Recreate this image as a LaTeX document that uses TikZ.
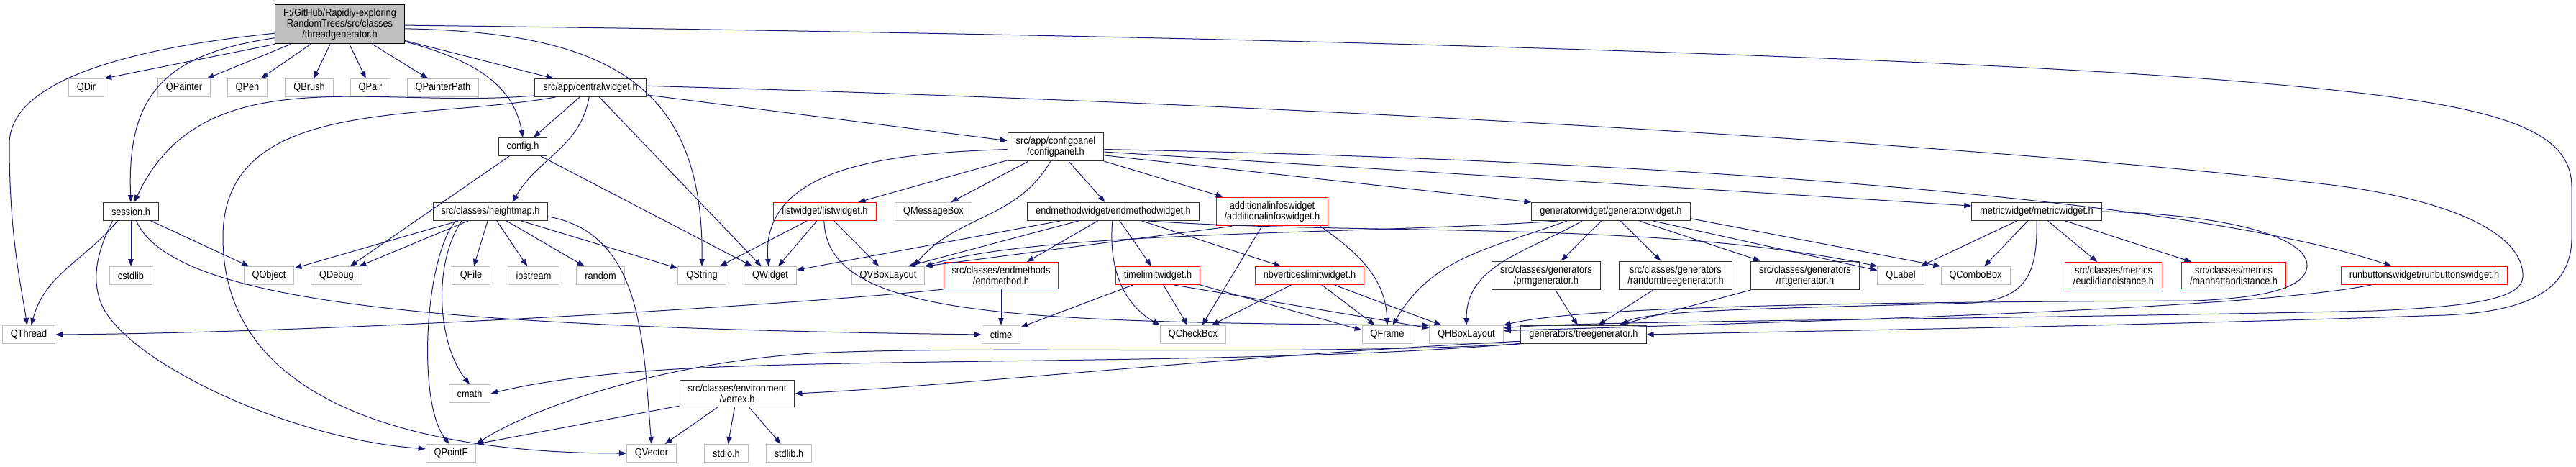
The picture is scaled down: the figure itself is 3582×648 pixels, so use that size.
\documentclass[tikz,border=0pt]{standalone}
\usepackage{fontspec}
\setmainfont{Liberation Sans}[FakeStretch=0.88]
\usepackage{tikz}
\usetikzlibrary{arrows.meta}
\definecolor{edgeblue}{HTML}{191970}
\definecolor{sysgray}{HTML}{BFBFBF}
\tikzset{
hfile/.style={
draw,
line width=1pt,
fill=white,
align=center,
inner xsep=11.5pt,
inner ysep=5.7pt,
minimum height=25pt,
font=\fontsize{14.5}{15}\selectfont
},
rootfile/.style={hfile,draw=black,fill=sysgray},
projfile/.style={hfile,draw=black!80},
sysfile/.style={hfile,draw=sysgray},
truncfile/.style={hfile,draw=red},
incl/.style={
draw=edgeblue,
line width=1pt,
-{Triangle[length=10pt,width=7.5pt]}
}
}

\begin{document}
\begin{tikzpicture}[x=1pt,y=1pt]
\useasboundingbox (0,0) rectangle (3582,-648);

% rank 0
\node[rootfile](tgen) at (472.5,-33.5){F:/GitHub/Rapidly-exploring\\RandomTrees/src/classes\\/threadgenerator.h};

% rank 1
\node[sysfile](qdir) at (120,-122){QDir};
\node[sysfile](qpainter) at (256,-122){QPainter};
\node[sysfile](qpen) at (344,-122){QPen};
\node[sysfile](qbrush) at (430,-122){QBrush};
\node[sysfile](qpair) at (515,-122){QPair};
\node[sysfile](qpainterpath) at (616,-122){QPainterPath};
\node[projfile](central) at (821,-122){src/app/centralwidget.h};

% rank 2
\node[projfile](config) at (727,-204){config.h};
\node[projfile](cpanel) at (1468,-204){src/app/configpanel\\/configpanel.h};

% rank 3
\node[projfile](session) at (182,-294){session.h};
\node[projfile](heightmap) at (682,-294){src/classes/heightmap.h};
\node[truncfile](listw) at (1147,-294){listwidget/listwidget.h};
\node[sysfile](qmsgbox) at (1298,-294){QMessageBox};
\node[projfile](endmw) at (1548,-294){endmethodwidget/endmethodwidget.h};
\node[truncfile](addinfo) at (1769,-294){additionalinfoswidget\\/additionalinfoswidget.h};
\node[projfile](genw) at (2240,-294){generatorwidget/generatorwidget.h};
\node[projfile](metricw) at (2832,-294){metricwidget/metricwidget.h};

% rank 4
\node[sysfile](cstdlib) at (182,-383){cstdlib};
\node[sysfile](qobject) at (374,-383){QObject};
\node[sysfile](qdebug) at (468,-383){QDebug};
\node[sysfile](qfile) at (655,-383){QFile};
\node[sysfile](iostream) at (742,-383){iostream};
\node[sysfile](random) at (835,-383){random};
\node[sysfile](qstring) at (976,-383){QString};
\node[sysfile](qwidget) at (1071,-383){QWidget};
\node[sysfile](qvbox) at (1235,-383){QVBoxLayout};
\node[truncfile](endm) at (1392,-383){src/classes/endmethods\\/endmethod.h};
\node[truncfile](timelim) at (1610,-383){timelimitwidget.h};
\node[truncfile](nbvert) at (1821,-383){nbverticeslimitwidget.h};
\node[projfile](prmgen) at (2150,-383){src/classes/generators\\/prmgenerator.h};
\node[projfile](rtgen) at (2330,-383){src/classes/generators\\/randomtreegenerator.h};
\node[projfile](rrtgen) at (2510,-383){src/classes/generators\\/rrtgenerator.h};
\node[sysfile](qlabel) at (2643,-383){QLabel};
\node[sysfile](qcombo) at (2747,-383){QComboBox};
\node[truncfile](euclid) at (2939,-383){src/classes/metrics\\/euclidiandistance.h};
\node[truncfile](manhattan) at (3106,-383){src/classes/metrics\\/manhattandistance.h};
\node[truncfile](runbtn) at (3371,-383){runbuttonswidget/runbuttonswidget.h};

% rank 5
\node[sysfile](qthread) at (40,-465){QThread};
\node[sysfile](ctime) at (1392,-465){ctime};
\node[sysfile](qcheck) at (1659,-465){QCheckBox};
\node[sysfile](qframe) at (1929,-465){QFrame};
\node[sysfile](qhbox) at (2039,-465){QHBoxLayout};
\node[projfile](treegen) at (2202,-465){generators/treegenerator.h};

% rank 6 and 7
\node[sysfile](cmath) at (653,-547){cmath};
\node[projfile](vertex) at (1025,-547){src/classes/environment\\/vertex.h};
\node[sysfile](qpointf) at (627,-630){QPointF};
\node[sysfile](qvector) at (906,-630){QVector};
\node[sysfile](stdio) at (1010,-630){stdio.h};
\node[sysfile](stdlib) at (1097,-630){stdlib.h};

% threadgenerator.h
\draw[incl](tgen.188) .. controls (150,-70) and (13,-120) .. (13,-200) .. controls (13,-330) and (30,-400) .. (qthread.100);
\draw[incl](tgen.192) .. controls (230,-75) and (176,-130) .. (session.north);
\draw[incl](tgen.south west)--(qdir.north east);
\draw[incl](tgen)--(qpainter);
\draw[incl](tgen)--(qpen);
\draw[incl](tgen)--(qbrush);
\draw[incl](tgen)--(qpair);
\draw[incl](tgen)--(qpainterpath);
\draw[incl](tgen)--(central);
\draw[incl](tgen.345) to[out=-15,in=100] (config.north);
\draw[incl](tgen.-4) .. controls (850,-45) and (979,-120) .. (qstring.north);
\draw[incl](tgen.-1) .. controls (1800,-50) and (2700,-80) .. (3100,-112) .. controls (3450,-140) and (3576,-170) .. (3576,-260) -- (3576,-330) .. controls (3576,-400) and (3520,-433) .. (3400,-438) .. controls (2900,-455) and (2500,-460) .. (treegen.east);

% session.h
\draw[incl](session.215) to[out=-130,in=75] (qthread.75);
\draw[incl](session)--(cstdlib);
\draw[incl](session)--(qobject);
\draw[incl](session.207) .. controls (140,-340) and (125,-380) .. (140,-420) .. controls (170,-500) and (400,-610) .. (qpointf.170);
\draw[incl](session.-60) .. controls (240,-420) and (600,-455) .. (ctime.west);

% centralwidget.h
\draw[incl](central)--(config);
\draw[incl](central.262) to[out=-100,in=60] (heightmap.23);
\draw[incl](central.188) to[out=185,in=65] (session.70);
\draw[incl](central.195) to[out=190,in=90] (310,-330) to[out=-90,in=180] (qvector.west);
\draw[incl](central)--(qwidget);
\draw[incl](central)--(cpanel);
\draw[incl](central.2) .. controls (2000,-150) and (2900,-215) .. (3250,-258) .. controls (3450,-285) and (3510,-340) .. (3508,-385) .. controls (3506,-415) and (3440,-426) .. (3300,-432) .. controls (2700,-445) and (2200,-446) .. (qhbox.10);

% config.h
\draw[incl](config)--(qdebug);
\draw[incl](config)--(qwidget);

% heightmap.h
\draw[incl](heightmap)--(qobject);
\draw[incl](heightmap)--(qdebug);
\draw[incl](heightmap)--(qfile);
\draw[incl](heightmap)--(iostream);
\draw[incl](heightmap)--(random);
\draw[incl](heightmap)--(qstring);
\draw[incl](heightmap.-5) to[out=-10,in=95] (qvector.north);
\draw[incl](heightmap.-165) .. controls (590,-360) and (580,-560) .. (qpointf.100);
\draw[incl](heightmap.-162) .. controls (600,-370) and (610,-480) .. (cmath.north);

% configpanel.h
\draw[incl](cpanel.183) to[out=182,in=95] (qwidget.100);
\draw[incl](cpanel)--(listw);
\draw[incl](cpanel)--(qmsgbox);
\draw[incl](cpanel.250) to[out=-120,in=50] (qvbox.20);
\draw[incl](cpanel)--(endmw);
\draw[incl](cpanel)--(addinfo);
\draw[incl](cpanel.-10)--(genw.north west);
\draw[incl](cpanel.-6)--(metricw.175);
\draw[incl](cpanel.-3) .. controls (2300,-222) and (3050,-275) .. (runbtn.164);

% listwidget.h
\draw[incl](listw)--(qstring);
\draw[incl](listw)--(qwidget);
\draw[incl](listw)--(qvbox);
\draw[incl](listw.265) .. controls (1150,-440) and (1400,-448) .. (qhbox.north west);

% endmethodwidget.h
\draw[incl](endmw.190)--(qwidget.12);
\draw[incl](endmw.195)--(qvbox.25);
\draw[incl](endmw.211)--(endm.28);
\draw[incl](endmw.265) to[out=-95,in=150] (qcheck.north west);
\draw[incl](endmw)--(timelim);
\draw[incl](endmw)--(nbvert);
\draw[incl](endmw.-15) .. controls (1900,-328) and (2300,-305) .. (qlabel.north west);

% endmethod.h
\draw[incl](endm)--(ctime);
\draw[incl](endm.south west) .. controls (1150,-420) and (500,-462) .. (qthread.east);

% timelimitwidget.h, nbverticeslimitwidget.h
\draw[incl](timelim)--(ctime);
\draw[incl](timelim)--(qcheck);
\draw[incl](timelim.south east)--(qframe.170);
\draw[incl](timelim.-30)--(qhbox.170);
\draw[incl](nbvert)--(qcheck);
\draw[incl](nbvert)--(qframe);
\draw[incl](nbvert)--(qhbox);

% additionalinfoswidget.h
\draw[incl](addinfo.200)--(qvbox.north east);
\draw[incl](addinfo.235)--(qcheck.46);
\draw[incl](addinfo.-17) to[out=-35,in=92] (qframe.north);

% generatorwidget.h
\draw[incl](genw.190) .. controls (1900,-326) and (1450,-320) .. (qvbox.north east);
\draw[incl](genw.192) to[out=200,in=60] (qframe.60);
\draw[incl](genw.198) to[out=210,in=90] (qhbox.north);
\draw[incl](genw)--(prmgen);
\draw[incl](genw)--(rtgen);
\draw[incl](genw)--(rrtgen);
\draw[incl](genw)--(qlabel);
\draw[incl](genw.-5)--(qcombo.north west);

% metricwidget.h
\draw[incl](metricw)--(qlabel);
\draw[incl](metricw)--(qcombo);
\draw[incl](metricw)--(euclid);
\draw[incl](metricw)--(manhattan);
\draw[incl](metricw.south) .. controls (2834,-390) and (2810,-415) .. (2744,-421) .. controls (2500,-428) and (2290,-430) .. (treegen.14);
\draw[incl](metricw.east) .. controls (3100,-298) and (3210,-330) .. (3208,-370) .. controls (3206,-400) and (3150,-414) .. (3050,-418) .. controls (2600,-420) and (2200,-425) .. (qhbox.north east);

% runbuttonswidget.h
\draw[incl](runbtn.190) .. controls (3150,-425) and (2700,-442) .. (qhbox.6);

% generators
\draw[incl](prmgen)--(treegen);
\draw[incl](rtgen)--(treegen);
\draw[incl](rrtgen)--(treegen);

% treegenerator.h
\draw[incl](treegen.south west) .. controls (1800,-495) and (1400,-480) .. (1150,-490) .. controls (950,-498) and (750,-560) .. (qpointf.north east);
\draw[incl](treegen.188) .. controls (1800,-505) and (1300,-498) .. (1000,-510) .. controls (850,-516) and (750,-530) .. (cmath.east);
\draw[incl](treegen.186) .. controls (1700,-495) and (1350,-535) .. (vertex.east);

% vertex.h
\draw[incl](vertex.192)--(qpointf.north east);
\draw[incl](vertex)--(qvector);
\draw[incl](vertex)--(stdio);
\draw[incl](vertex)--(stdlib);
\end{tikzpicture}
\end{document}
